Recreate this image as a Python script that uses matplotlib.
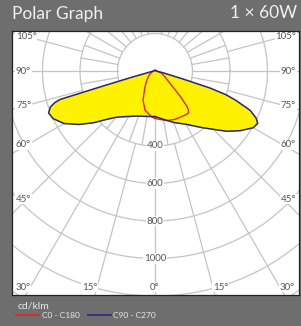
import numpy as np
import matplotlib
matplotlib.use('Agg')
import matplotlib.pyplot as plt

# angles from nadir (deg) and luminous intensity (cd/klm)
# C90 - C270 plane (blue), right half = C90, left half = C270
ang_c90 = [0, 10, 20, 30, 40, 45, 50, 55, 60, 63, 65, 67.5, 70, 71.5, 72.8, 74, 77, 80, 90, 180]
val_c90 = [243, 262, 292, 328, 395, 440, 500, 555, 605, 615, 595, 550, 460, 400, 307, 155, 50, 20, 5, 5]
ang_c270 = [0, 10, 20, 25, 30, 35, 40, 45, 50, 55, 60, 65, 68.5, 71, 72.5, 73.3, 73.8, 74.8, 80, 90, 180]
val_c270 = [243, 246, 256, 266, 280, 298, 322, 365, 430, 497, 560, 600, 610, 590, 560, 529, 305, 138, 20, 5, 5]

# C0 - C180 plane (red), right half = C0, left half = C180
ang_c0 = [0, 6, 13.6, 22.5, 28.4, 34.3, 38.2, 40.5, 42.2, 45, 50.6, 60, 71, 90, 180]
val_c0 = [253, 260, 272, 279, 281, 284, 287, 275, 252, 189, 103, 60, 38, 10, 5]
ang_c180 = [0, 4, 14.4, 22.5, 32.5, 40, 49.6, 60, 90, 180]
val_c180 = [253, 246, 215, 167, 99, 70, 47, 30, 10, 5]

rings = [200, 400, 600, 800, 1000, 1200, 1400]
ring_labels = [400, 600, 800, 1000]
side_angles = [105, 90, 75, 60, 45]
bottom_angles = [30, 15, 0]

bg = '#6e6e6e'
grid_col = '#c4c4c4'
txt_col = '#555555'
K = 1 / 0.1875  # cd/klm per pixel


def closed_curve(ang_r, val_r, ang_l, val_l):
    ar = np.radians(ang_r)
    al = np.radians(ang_l)[::-1]
    vr = np.array(val_r)
    vl = np.array(val_l)[::-1]
    x = np.concatenate([vr * np.sin(ar), -vl * np.sin(al)])
    y = np.concatenate([-vr * np.cos(ar), -vl * np.cos(al)])
    return x, y


fig = plt.figure(figsize=(3.01, 3.26), dpi=100, facecolor=bg)
ax = fig.add_axes([12 / 301, 1 - 295 / 326, 287 / 301, 264 / 326])
ax.set_facecolor('white')
ax.set_xlim(-(155 - 12) * K, (299 - 155) * K)
ax.set_ylim(-(295 - 71) * K, (71 - 31) * K)
ax.set_xticks([])
ax.set_yticks([])
for s in ax.spines.values():
    s.set_color('#222222')
    s.set_linewidth(0.9)

# grid circles
t = np.linspace(0, 2 * np.pi, 400)
for r in rings:
    ax.plot(r * np.cos(t), r * np.sin(t), color=grid_col, lw=0.9, zorder=1)

# spokes: fine ones in the inner ring, 15 deg ones outside
for a in range(0, 360, 10):
    if a == 180:
        continue
    th = np.radians(a)
    ax.plot([200 * np.sin(th), 400 * np.sin(th)], [-200 * np.cos(th), -400 * np.cos(th)],
            color=grid_col, lw=0.9, zorder=1)
for a in range(0, 360, 15):
    th = np.radians(a)
    ax.plot([400 * np.sin(th), 1700 * np.sin(th)], [-400 * np.cos(th), -1700 * np.cos(th)],
            color=grid_col, lw=0.9, zorder=1)

# curves
xb, yb = closed_curve(ang_c90, val_c90, ang_c270, val_c270)
ax.fill(xb, yb, color='#fff200', zorder=2)
ax.plot(xb, yb, color='#26268c', lw=1.1, zorder=4)
xr, yr = closed_curve(ang_c0, val_c0, ang_c180, val_c180)
ax.plot(xr, yr, color='#e8231c', lw=1.0, zorder=3)

box = dict(facecolor='white', edgecolor='none', pad=0.4)

for v in ring_labels:
    ax.text(0, -v, str(v), ha='center', va='center', fontsize=7, color=txt_col,
            family='Lato', bbox=box, zorder=5)

xl, xr_ = ax.get_xlim()
for a in side_angles:
    th = np.radians(a)
    y = -128 * K / np.tan(th)
    ax.text(xl + 4 * K, y, f'{a}°', ha='left', va='center', fontsize=7, color=txt_col,
            family='Lato', bbox=box, zorder=5)
    ax.text(xr_ - 3 * K, y, f'{a}°', ha='right', va='center', fontsize=7, color=txt_col,
            family='Lato', bbox=box, zorder=5)

yb_lab = -(287 - 71) * K
for a in bottom_angles:
    xx = -yb_lab * np.tan(np.radians(a))
    if a == 0:
        ax.text(0, yb_lab, '0°', ha='center', va='center', fontsize=7, color=txt_col,
                family='Lato', bbox=box, zorder=5)
    else:
        ax.text(xx, yb_lab, f'{a}°', ha='left', va='center', fontsize=7, color=txt_col,
                family='Lato', bbox=box, zorder=5)
        ax.text(-xx, yb_lab, f'{a}°', ha='right', va='center', fontsize=7, color=txt_col,
                family='Lato', bbox=box, zorder=5)

# header
fig.text(12 / 301, 1 - 18.5 / 326, 'Polar Graph', fontsize=12.5, color='#f0f0f0',
         family='Lato', va='baseline', ha='left')
fig.text(297 / 301, 1 - 18.5 / 326, '1 × 60W', fontsize=12.5, color='#f0f0f0',
         family='Lato', va='baseline', ha='right')

# legend
fig.text(18 / 301, 1 - 306 / 326, 'cd/klm', fontsize=7.5, color='#e8e8e8',
         family='Lato', va='center', ha='left')
fig.add_artist(plt.Line2D([16 / 301, 39 / 301], [1 - 314.5 / 326] * 2, color='#e8231c', lw=1.2))
fig.text(42 / 301, 1 - 316 / 326, 'C0 - C180', fontsize=6, color='#e8e8e8',
         family='Lato', va='center', ha='left')
fig.add_artist(plt.Line2D([88 / 301, 111 / 301], [1 - 314.5 / 326] * 2, color='#26268c', lw=1.2))
fig.text(113 / 301, 1 - 316 / 326, 'C90 - C270', fontsize=6, color='#e8e8e8',
         family='Lato', va='center', ha='left')

fig.savefig('out.png', dpi=100, facecolor=bg)
